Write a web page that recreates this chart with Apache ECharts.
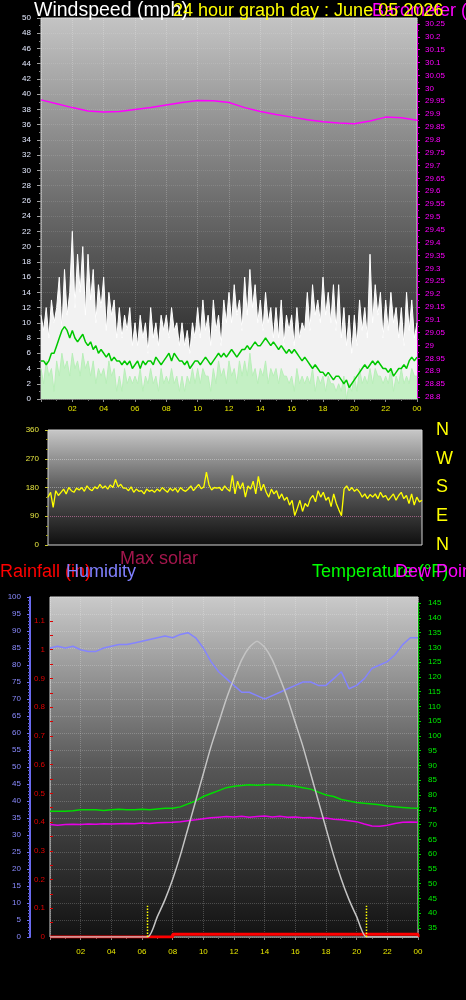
<!DOCTYPE html>
<html><head><meta charset="utf-8">
<script src="https://cdn.jsdelivr.net/npm/echarts@6/dist/echarts.min.js"></script>
<style>html,body{margin:0;padding:0;background:#000;}#c{width:466px;height:1000px;}</style>
</head><body><div id="c"></div>
<script>
// ---- data (10-minute samples, hours 0..24) ----
const windGust = [
11,9,12,8,13,10, 12,16,9,17,11,14, 22,12,19,14,20,11, 19,13,17,10,15,12,
16,9,14,11,13,8, 12,8,11,9,12,7, 10,7,11,8,10,6, 12,8,10,7,11,9,
11,8,12,9,10,7, 10,7,9,6,10,8, 12,8,13,9,11,7, 13,9,11,7,13,10,
14,10,15,11,13,9, 16,11,17,12,15,10, 13,9,14,10,12,8, 12,8,13,7,11,9,
11,7,12,8,10,9, 14,9,15,11,13,10, 16,11,14,10,15,9, 15,8,12,7,11,6,
11,7,13,9,12,8, 19,10,15,11,14,8, 13,9,14,10,12,8, 12,7,14,9,13,8, 10];
const windSpeed = [
4,2,5,3,4,1, 5,3,6,4,5,3, 6,4,5,3,6,4, 5,3,5,2,4,3,
4,2,5,3,4,1, 3,1,4,2,3,2, 3,2,4,1,3,2, 4,2,3,1,4,2,
3,2,4,2,3,1, 3,1,3,2,4,2, 4,2,4,3,3,1, 4,2,5,3,4,2,
5,3,4,2,5,3, 5,3,6,3,4,2, 4,3,5,2,4,3, 4,2,4,3,3,2,
3,1,4,2,3,2, 3,2,4,1,3,2, 3,1,3,2,2,1, 2,1,3,0,2,1,
3,1,4,2,3,2, 4,2,4,3,3,2, 3,2,4,1,3,2, 4,2,3,2,4,3, 3];
const windAvg = [
5,5,4.5,5,6,6, 7,8,9,9.5,9,8, 9,8,7.5,8,8.5,7.5, 7,7.5,6.5,7,6,6.5,
6,5.5,6,5,5.5,5, 5,4.5,5,4.5,5,4, 4.5,5,4,5,4.5,5, 5,4.5,5.5,5,4.5,5,
5.5,6,5,6,5.5,5, 5,4.5,5,4,4.5,5, 5,4.5,5,5.5,5,4.5, 5,5.5,6,5.5,6,5.5,
6,6.5,6,5.5,6,6.5, 6.5,7,6.5,7,7.5,7, 7,7.5,8,7.5,7,7.5, 7,6.5,7,6.5,6,6.5,
6,6.5,6,5.5,5,5.5, 5,4.5,4,4.5,4,3.5, 3.5,3,3.5,3,2.5,3, 3,2.5,2,2.5,1.5,2,
2.5,3,3.5,4,4.5,4, 4.5,5,4.5,5,4.5,4, 4,3.5,4,3,3.5,4, 4,4.5,4,5,5.5,5, 5.5];
const windDir = [
150,165,118,170,155,165, 175,160,180,170,165,178, 172,180,168,185,175,170, 182,176,190,178,185,175,
188,180,205,182,190,178, 178,170,182,165,175,168, 170,160,175,168,172,165, 175,168,180,172,165,178,
170,178,165,180,172,168, 175,185,170,180,190,176, 182,228,188,172,180,178, 180,170,185,175,168,218,
160,200,175,195,150,185, 175,200,160,215,170,190, 165,150,175,160,170,145, 160,140,150,125,140,92,
115,140,105,130,120,145, 155,135,170,150,165,140, 150,120,160,130,110,92, 175,185,170,180,168,175,
165,150,160,145,158,150, 160,145,165,150,155,140, 150,160,140,155,165,145, 155,130,160,125,150,135, 140];
// hourly
const pressure = [29.955,29.94,29.925,29.912,29.908,29.91,29.918,29.925,29.935,29.945,29.953,29.952,
29.945,29.925,29.91,29.898,29.888,29.878,29.87,29.865,29.862,29.873,29.888,29.886,29.876];
// half-hourly
const humidity = [85,85.5,85,85.5,84.5,84,84,85,85.5,86,86,86.5,87,87.5,88,88.5,88,89,89.5,88,85,81,78,76,
74,72,72,71,70,71,72,73,74,75,75,74,74,76,78,73,74,76,79,80,81,83,86,88,88];
const temperature = [74.5,74.5,74.5,74.7,75,75,75,74.8,75,75.2,75,75,75.2,75,75.3,75.5,75.5,76,77,78,79.5,80.5,81.5,82.5,
83,83.2,83.5,83.3,83.5,83.6,83.4,83.2,83,82.5,82,81,80,79.5,78.5,78,77.5,77.2,77,76.7,76.3,76,75.8,75.6,75.5];
const dewPoint = [70,69.8,70,70.1,70,70.2,70.1,70.3,70.2,70.3,70.4,70.3,70.5,70.4,70.6,70.7,70.8,71,71.3,71.6,72,72.3,72.5,72.7,
72.6,72.8,72.5,72.7,72.9,72.6,72.8,72.5,72.6,72.3,72.4,72.1,72.2,71.8,71.6,71.3,71,70.2,69.5,69.4,69.8,70.4,70.8,70.9,70.8];
const rainHours = [0, 8, 8, 24, 24];
const rainValues = [0, 0, 0.01, 0.01, 0];
const solarHours = [0, 6.36, 7, 7.5, 8, 8.5, 9, 9.5, 10, 10.5, 11, 11.5, 12, 12.5, 13, 13.5,
  14, 14.5, 15, 15.5, 16, 16.5, 17, 17.5, 18, 18.5, 19, 19.5, 20, 20.64, 24];
const solarValues = [0, 0, 60, 110, 170, 240, 320, 400, 480, 560, 630, 700, 760, 815, 852, 870,
  852, 815, 760, 700, 630, 560, 480, 400, 320, 240, 170, 110, 60, 0, 0];
const sunriseHour = 6.36, sunsetHour = 20.64, sunMarkHeight = 92;
const hourLabels = ['02','04','06','08','10','12','14','16','18','20','22','00'];
const compassLabels = {0:'N', 90:'E', 180:'S', 270:'W', 360:'N'};

// ---- helpers ----
const pairs = (vals, step) => vals.map((v, i) => [i * step, v]);
const zip = (xs, ys) => xs.map((x, i) => [x, ys[i]]);
const FONT = '"Liberation Sans", Arial, sans-serif';
const num = v => String(+(+v).toFixed(2));
const grad = (a, b, c) => ({type:'linear', x:0, y:0, x2:0, y2:1,
  colorStops:[{offset:0,color:a},{offset:0.5,color:b},{offset:1,color:c}]});

function xAxisFor(gi, showLabels, margin) {
  return {
    type:'value', gridIndex:gi, min:0, max:24, interval:2,
    show: true,
    axisLine:{show:false, onZero:false},
    axisTick:{show:showLabels, length:3, lineStyle:{color:'#8a8a8a'}},
    minorTick:{show:showLabels, splitNumber:2, length:2, lineStyle:{color:'#6a6a6a'}},
    axisLabel:{show:showLabels, color:'#e6e600', fontSize:8, fontFamily:FONT, margin:margin,
      formatter: v => v === 0 ? '' : hourLabels[v / 2 - 1]},
    splitLine:{show:showLabels, lineStyle:{color:'rgba(255,255,255,0.22)', type:'dotted'}}
  };
}

const chart = echarts.init(document.getElementById('c'), null, {renderer:'canvas'});
chart.setOption({
  backgroundColor:'#000',
  animation:false,
  grid:[
    {left:41, top:18, width:376, height:381, show:true, backgroundColor:grad('#c4c4c4','#6a6a6a','#1a1a1a'), borderColor:'#d4d4d4', borderWidth:1},
    {left:41, top:24, width:376, height:373, show:false},
    {left:48, top:430, width:374, height:115, show:true, backgroundColor:grad('#c8c8c8','#5c5c5c','#0e0e0e'), borderColor:'#d4d4d4', borderWidth:1},
    {left:50, top:597, width:368, height:340, show:true, backgroundColor:grad('#cacaca','#575757','#121212'), borderColor:'#d4d4d4', borderWidth:1},
    {left:50, top:621, width:368, height:316, show:false},
    {left:50, top:603, width:368, height:325, show:false}
  ],
  xAxis:[
    xAxisFor(0, true, 6),
    Object.assign(xAxisFor(1, false, 5), {show:false}),
    xAxisFor(2, false, 5),
    xAxisFor(3, true, 11),
    Object.assign(xAxisFor(4, false, 5), {show:false}),
    Object.assign(xAxisFor(5, false, 5), {show:false})
  ],
  yAxis:[
    {type:'value', gridIndex:0, position:'left', min:0, max:50, interval:2,
      axisLine:{show:false, onZero:false},
      axisTick:{show:true, length:4, lineStyle:{color:'#a0a0a0'}},
      minorTick:{show:true, splitNumber:2, length:2, lineStyle:{color:'#808080'}},
      axisLabel:{color:'#e4eaff', fontSize:8, fontFamily:FONT, margin:10},
      splitLine:{show:true, lineStyle:{color:'rgba(255,255,255,0.12)', type:'dotted'}}},
    {type:'value', gridIndex:1, position:'right', min:28.8, max:30.25, interval:0.05,
      axisLine:{show:true, onZero:false, lineStyle:{color:'#e000e0'}},
      axisTick:{show:true, length:3, lineStyle:{color:'#e000e0'}},
      minorTick:{show:true, splitNumber:2, length:2, lineStyle:{color:'#c000c0'}},
      axisLabel:{color:'#ff00ff', fontSize:8, fontFamily:FONT, margin:8, formatter:num},
      splitLine:{show:false}},
    {type:'value', gridIndex:2, position:'left', min:0, max:360, interval:90,
      axisLine:{show:false, onZero:false},
      axisTick:{show:true, length:3, lineStyle:{color:'#c8c830'}},
      minorTick:{show:true, splitNumber:3, length:2, lineStyle:{color:'#a0a020'}},
      axisLabel:{color:'#e6e640', fontSize:8, fontFamily:FONT, margin:9},
      splitLine:{show:true, lineStyle:{color:['rgba(0,0,0,0)','#9a6080','rgba(255,255,255,0.35)','rgba(255,255,255,0.35)','rgba(0,0,0,0)'], type:'dotted'}}},
    {type:'value', gridIndex:2, position:'right', min:0, max:360, interval:90,
      axisLine:{show:false, onZero:false}, axisTick:{show:false}, splitLine:{show:false},
      axisLabel:{color:'#ffff00', fontSize:18, fontFamily:FONT, margin:14, formatter: v => compassLabels[v]}},
    {type:'value', gridIndex:3, position:'left', offset:20, min:0, max:100, interval:5,
      axisLine:{show:true, onZero:false, lineStyle:{color:'#6a6af0', width:2}},
      axisTick:{show:true, length:3, lineStyle:{color:'#6a6af0'}},
      minorTick:{show:true, splitNumber:5, length:2, lineStyle:{color:'#5a5ad0'}},
      axisLabel:{color:'#8a8aff', fontSize:8, fontFamily:FONT, margin:9},
      splitLine:{show:true, lineStyle:{color:'rgba(255,255,255,0.2)', type:'dotted'}}},
    {type:'value', gridIndex:3, show:false, min:0, max:1000, splitLine:{show:false}, axisLine:{onZero:false}},
    {type:'value', gridIndex:4, position:'left', min:0, max:1.1, interval:0.1,
      axisLine:{show:false, onZero:false},
      axisTick:{show:true, inside:true, length:3, lineStyle:{color:'#dd0000'}},
      minorTick:{show:true, splitNumber:2, length:3, lineStyle:{color:'#dd0000'}},
      axisLabel:{color:'#e00000', fontSize:8, fontFamily:FONT, margin:5, formatter:num},
      splitLine:{show:false}},
    {type:'value', gridIndex:5, position:'right', min:35, max:145, interval:5,
      axisLine:{show:true, onZero:false, lineStyle:{color:'#00c000'}},
      axisTick:{show:true, length:3, lineStyle:{color:'#00d000'}},
      minorTick:{show:true, splitNumber:5, length:2, lineStyle:{color:'#00a000'}},
      axisLabel:{color:'#00ee00', fontSize:8, fontFamily:FONT, margin:10},
      splitLine:{show:false}}
  ],
  series:[
    {name:'Gust', type:'line', xAxisIndex:0, yAxisIndex:0, data:pairs(windGust, 1/6), symbol:'none',
      lineStyle:{color:'#ffffff', width:1}, areaStyle:{color:'#f2f2f2', opacity:1}, z:2},
    {name:'Speed', type:'line', xAxisIndex:0, yAxisIndex:0, data:pairs(windSpeed, 1/6), symbol:'none',
      lineStyle:{color:'#b8eeb8', width:1}, areaStyle:{color:'#c4f0c4', opacity:1}, z:3},
    {name:'Average', type:'line', xAxisIndex:0, yAxisIndex:0, data:pairs(windAvg, 1/6), symbol:'none',
      lineStyle:{color:'#00c800', width:1.5}, z:4},
    {name:'Barometer', type:'line', xAxisIndex:1, yAxisIndex:1, data:pairs(pressure, 1), symbol:'none',
      lineStyle:{color:'#ff00ff', width:1.5}, z:5},
    {name:'Direction', type:'line', xAxisIndex:2, yAxisIndex:2, data:pairs(windDir, 1/6), symbol:'none',
      lineStyle:{color:'#ffff00', width:1.3}, z:4},
    {name:'Rainfall', type:'line', xAxisIndex:4, yAxisIndex:6, data:zip(rainHours, rainValues), symbol:'none',
      lineStyle:{color:'#ff0000', width:3}, z:5},
    {name:'Max solar', type:'line', xAxisIndex:3, yAxisIndex:5, data:zip(solarHours, solarValues), symbol:'none',
      smooth:0.2, lineStyle:{color:'#c4c4c4', width:1.5}, z:6},
    {name:'Sunrise', type:'line', xAxisIndex:3, yAxisIndex:5, data:[[sunriseHour,0],[sunriseHour,sunMarkHeight]], symbol:'none',
      lineStyle:{color:'#ffff00', width:1.5, type:'dotted'}, z:7},
    {name:'Sunset', type:'line', xAxisIndex:3, yAxisIndex:5, data:[[sunsetHour,0],[sunsetHour,sunMarkHeight]], symbol:'none',
      lineStyle:{color:'#ffff00', width:1.5, type:'dotted'}, z:7},
    {name:'Humidity', type:'line', xAxisIndex:3, yAxisIndex:4, data:pairs(humidity, 0.5), symbol:'none',
      lineStyle:{color:'#8484ff', width:1.5}, z:4},
    {name:'Temperature', type:'line', xAxisIndex:5, yAxisIndex:7, data:pairs(temperature, 0.5), symbol:'none',
      lineStyle:{color:'#00dd00', width:1.5}, z:4},
    {name:'Dew Point', type:'line', xAxisIndex:5, yAxisIndex:7, data:pairs(dewPoint, 0.5), symbol:'none',
      lineStyle:{color:'#e600e6', width:1.5}, z:4}
  ],
  graphic:[
    {type:'text', x:34, y:1, style:{text:'Windspeed (mph)', fill:'#ffffff', font:'19.5px ' + FONT, verticalAlign:'top'}},
    {type:'text', x:372, y:2, style:{text:'Barometer (inHg)', fill:'#ff00ff', font:'18px ' + FONT, verticalAlign:'top'}},
    {type:'text', x:173, y:2, style:{text:'24 hour graph day : June 05 2026', fill:'#ffff00', font:'18px ' + FONT, verticalAlign:'top'}},
    {type:'text', x:120, y:550, style:{text:'Max solar', fill:'#a3164c', font:'18px ' + FONT, verticalAlign:'top'}},
    {type:'text', x:0, y:563, style:{text:'Rainfall (in)', fill:'#ff0000', font:'18px ' + FONT, verticalAlign:'top'}},
    {type:'text', x:66, y:563, style:{text:'Humidity', fill:'#8080ff', font:'18px ' + FONT, verticalAlign:'top'}},
    {type:'text', x:312, y:563, style:{text:'Temperature (°F)', fill:'#00ff00', font:'18px ' + FONT, verticalAlign:'top'}},
    {type:'text', x:395, y:563, style:{text:'Dew Point (°F)', fill:'#ff00ff', font:'18px ' + FONT, verticalAlign:'top'}}
  ]
});
</script>
</body></html>
